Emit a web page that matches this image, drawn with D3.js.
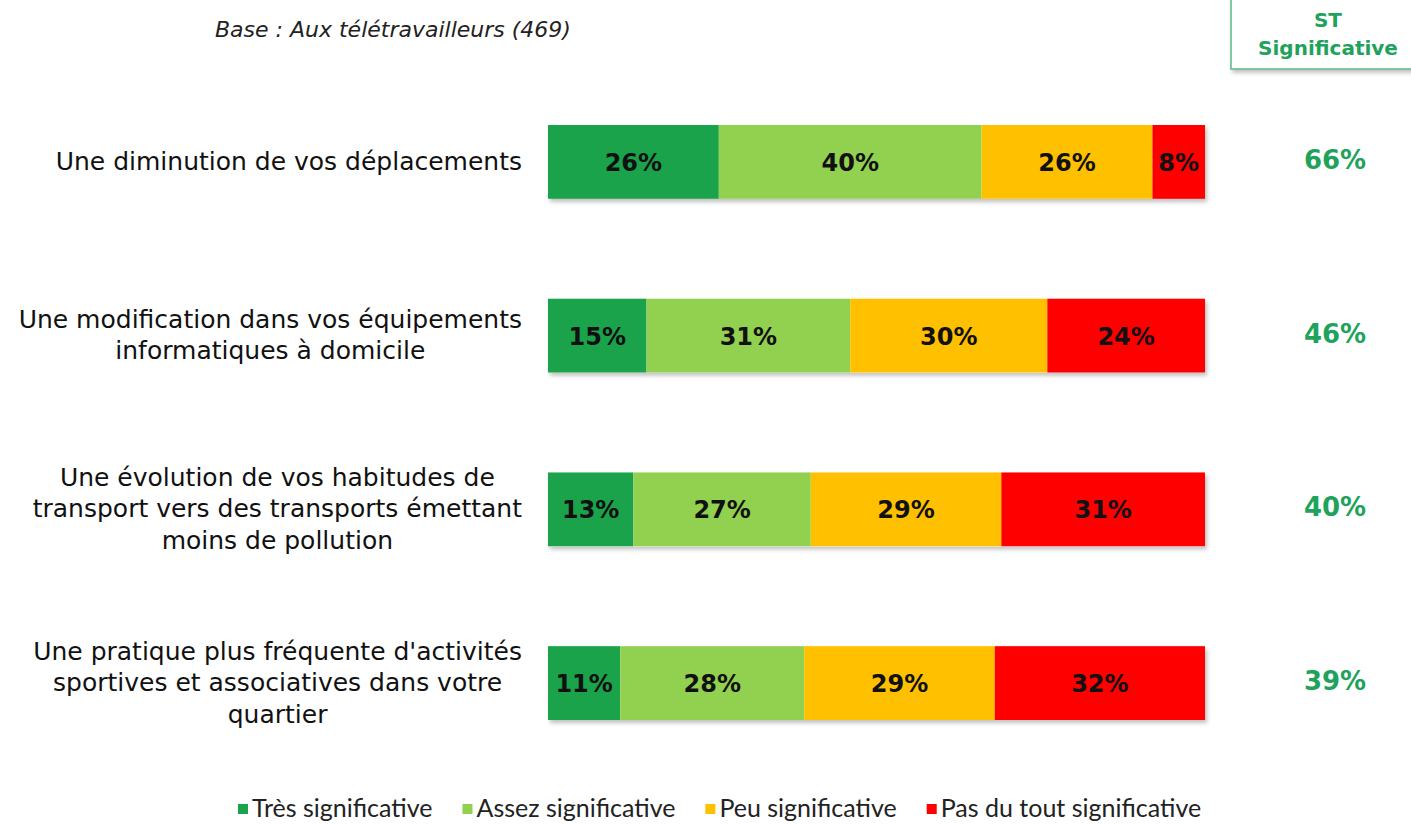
<!DOCTYPE html>
<html>
<head>
<meta charset="utf-8">
<script src="https://cdn.jsdelivr.net/npm/d3@7"></script>
<style>
  body { margin: 0; background: #fff; }
  svg { display: block; }
</style>
</head>
<body>
<svg id="chart" width="1411" height="825"></svg>
<script>
'use strict';

var categories = [
    ['Une diminution de vos déplacements'],
    ['Une modification dans vos équipements', 'informatiques à domicile'],
    ['Une évolution de vos habitudes de', 'transport vers des transports émettant', 'moins de pollution'],
    ['Une pratique plus fréquente d\'activités', 'sportives et associatives dans votre', 'quartier']
];
var seriesNames = ['Très significative', 'Assez significative', 'Peu significative', 'Pas du tout significative'];
var tresSignificative = [26, 15, 13, 11];
var assezSignificative = [40, 31, 27, 28];
var peuSignificative = [26, 30, 29, 29];
var pasDuTout = [8, 24, 31, 32];
var stSignificative = [66, 46, 40, 39];
var colors = ['#1aa34a', '#92d050', '#ffc000', '#fe0000'];

var svg = d3.select('#chart'),
    fontLabel = 'Tahoma, "DejaVu Sans", sans-serif',
    green = '#1fa35c';

var defs = svg.append('defs');
var shadow = defs.append('filter').attr('id', 'shadow')
    .attr('x', '-5%').attr('y', '-20%').attr('width', '110%').attr('height', '150%');
shadow.append('feDropShadow').attr('dx', 2).attr('dy', 3).attr('stdDeviation', 2)
    .attr('flood-color', '#000').attr('flood-opacity', 0.25);

var rows = categories.map(function(lines, i){
    return { lines: lines, values: [tresSignificative[i], assezSignificative[i], peuSignificative[i], pasDuTout[i]], st: stSignificative[i] };
});

var x = d3.scaleLinear().domain([0, 100]).range([548, 1205]);
var y = d3.scaleBand().domain(d3.range(rows.length)).range([125, 720]).paddingInner(0.575).paddingOuter(0);

// header
svg.append('text')
    .attr('x', 215).attr('y', 37)
    .attr('font-family', fontLabel).attr('font-style', 'italic')
    .attr('font-size', 22).attr('fill', '#222')
    .text('Base : Aux télétravailleurs (469)');

var box = svg.append('g');
box.append('rect')
    .attr('x', 1231).attr('y', -5).attr('width', 190).attr('height', 74)
    .attr('fill', '#fff').attr('stroke', '#5cb88a').attr('stroke-width', 1.5)
    .attr('filter', 'url(#shadow)');
box.append('text').attr('x', 1328).attr('y', 27)
    .attr('text-anchor', 'middle').attr('font-family', fontLabel).attr('font-weight', 'bold')
    .attr('font-size', 20).attr('fill', green).text('ST');
box.append('text').attr('x', 1328).attr('y', 55)
    .attr('text-anchor', 'middle').attr('font-family', fontLabel).attr('font-weight', 'bold')
    .attr('font-size', 20).attr('fill', green).text('Significative');

var row = svg.selectAll('g.row').data(rows).enter().append('g')
    .attr('class', 'row')
    .attr('transform', function(d, i){ return 'translate(0,' + y(i) + ')'; });

// category labels, centred block with its right edge at 522
row.each(function(d){
    var g = d3.select(this),
        lh = 31.5,
        t = g.append('text')
            .attr('font-family', fontLabel).attr('font-size', 25).attr('fill', '#111')
            .attr('text-anchor', 'middle');
    var spans = t.selectAll('tspan').data(d.lines).enter().append('tspan')
        .attr('y', function(l, j){ return y.bandwidth() / 2 + (j - (d.lines.length - 1) / 2) * lh + 8; })
        .text(function(l){ return l; });
    var w = d3.max(spans.nodes(), function(n){ return n.getComputedTextLength(); });
    spans.attr('x', 522 - w / 2);
});

// stacked segments
row.each(function(d){
    var g = d3.select(this), acc = 0;
    var segs = d.values.map(function(v, k){
        var s = { v: v, k: k, x0: acc, x1: acc + v };
        acc += v;
        return s;
    });
    g.append('rect')
        .attr('x', x(0)).attr('y', 0)
        .attr('width', x(100) - x(0)).attr('height', y.bandwidth())
        .attr('fill', '#fff').attr('filter', 'url(#shadow)');
    g.selectAll('rect.seg').data(segs).enter().append('rect')
        .attr('class', 'seg')
        .attr('x', function(s){ return x(s.x0); })
        .attr('width', function(s){ return x(s.x1) - x(s.x0); })
        .attr('y', 0).attr('height', y.bandwidth())
        .attr('fill', function(s){ return colors[s.k]; });
    g.selectAll('text.val').data(segs).enter().append('text')
        .attr('class', 'val')
        .attr('x', function(s){ return (x(s.x0) + x(s.x1)) / 2; })
        .attr('y', y.bandwidth() / 2 + 9)
        .attr('text-anchor', 'middle')
        .attr('font-family', fontLabel).attr('font-weight', 'bold')
        .attr('font-size', 24).attr('fill', '#111')
        .text(function(s){ return s.v + '%'; });
    g.append('text')
        .attr('x', 1335).attr('y', y.bandwidth() / 2 + 7)
        .attr('text-anchor', 'middle')
        .attr('font-family', fontLabel).attr('font-weight', 'bold')
        .attr('font-size', 26).attr('fill', green)
        .text(d.st + '%');
});

// legend
var legend = svg.append('g').attr('transform', 'translate(238,817)'),
    lx = 0;
seriesNames.forEach(function(name, k){
    var item = legend.append('g').attr('transform', 'translate(' + lx + ',0)');
    item.append('rect').attr('x', 0).attr('y', -13).attr('width', 10).attr('height', 10)
        .attr('fill', colors[k]);
    var t = item.append('text').attr('x', 14).attr('y', 0)
        .attr('font-family', 'Lato, "Open Sans", sans-serif').attr('font-size', 25)
        .attr('fill', '#222').text(name);
    lx += 14 + t.node().getComputedTextLength() + 30;
});
</script>
</body>
</html>
